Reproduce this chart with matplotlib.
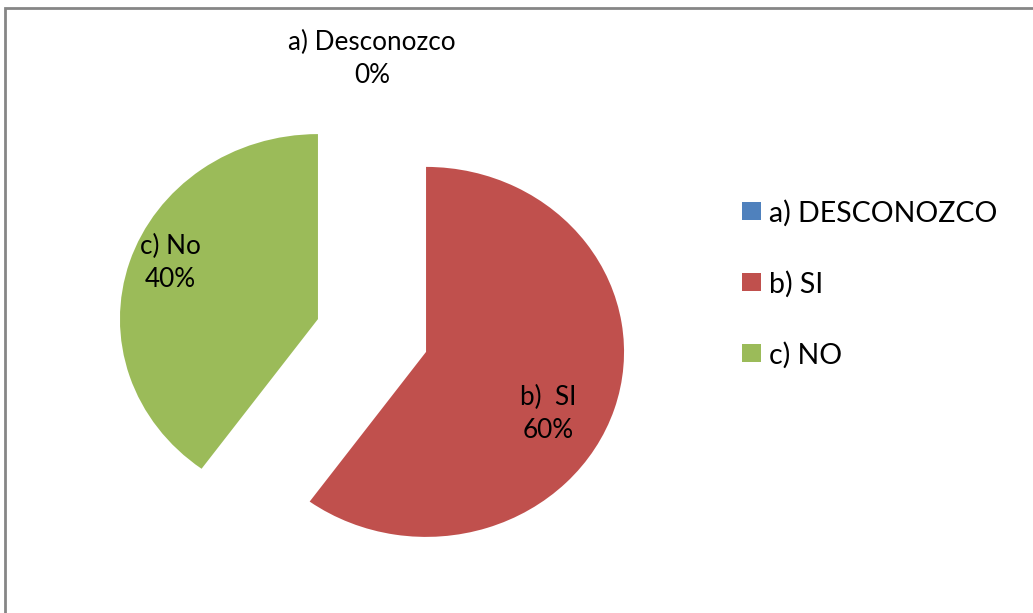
import matplotlib
matplotlib.use("Agg")
import matplotlib.pyplot as plt
from matplotlib.patches import Rectangle, Patch

# ---- data ----
categories = ["a) DESCONOZCO", "b) SI", "c) NO"]
values = [0, 60, 40]
slice_labels = ["a) Desconozco\n0%", "b)  SI\n60%", "c) No\n40%"]
colors = ["#4F81BD", "#C0504D", "#9BBB59"]

plt.rcParams['font.family'] = ['Lato', 'DejaVu Sans']

W, H = 1033, 613
fig = plt.figure(figsize=(W / 100, H / 100), dpi=100)
ax = fig.add_axes([0, 0, 1, 1])

# pixel geometry of the (slightly stretched) pie
cx, cy = 372.0, 335.5   # pie origin in pixels (from top-left)
rx, ry = 198.0, 185.0   # horizontal / vertical radius in pixels

wedges, _ = ax.pie(values, colors=colors, startangle=90, counterclock=False,
                   explode=[0.287, 0.287, 0.287], radius=1.0,
                   wedgeprops=dict(linewidth=0))
ax.set_aspect('auto')
ax.set_xlim(-cx / rx, (W - cx) / rx)
ax.set_ylim(-(H - cy) / ry, cy / ry)
ax.axis('off')

# data-label positions (layout)
label_pos = [(0.0, 1.495), (0.889, -0.424), (-1.02, 0.392)]
for (x, y), txt in zip(label_pos, slice_labels):
    ax.text(x, y, txt, ha='center', va='center', multialignment='center',
            fontsize=18.8, color='black', linespacing=1.4)

handles = [Patch(facecolor=c, edgecolor='none') for c in colors]
fig.legend(handles, categories, loc='center left',
           bbox_to_anchor=(742 / W, 1 - 284 / H), frameon=False,
           fontsize=20.5, handlelength=0.65, handleheight=0.6,
           handletextpad=0.3, labelspacing=1.55, borderaxespad=0,
           borderpad=0)

# chart-area border (extends past right/bottom edges)
fig.patches.append(Rectangle((5 / W, -0.1), 1.2, (H - 8) / H + 0.1,
                             transform=fig.transFigure, fill=False,
                             edgecolor='#868686', linewidth=2))

fig.savefig("out.png", dpi=100, facecolor='white')
